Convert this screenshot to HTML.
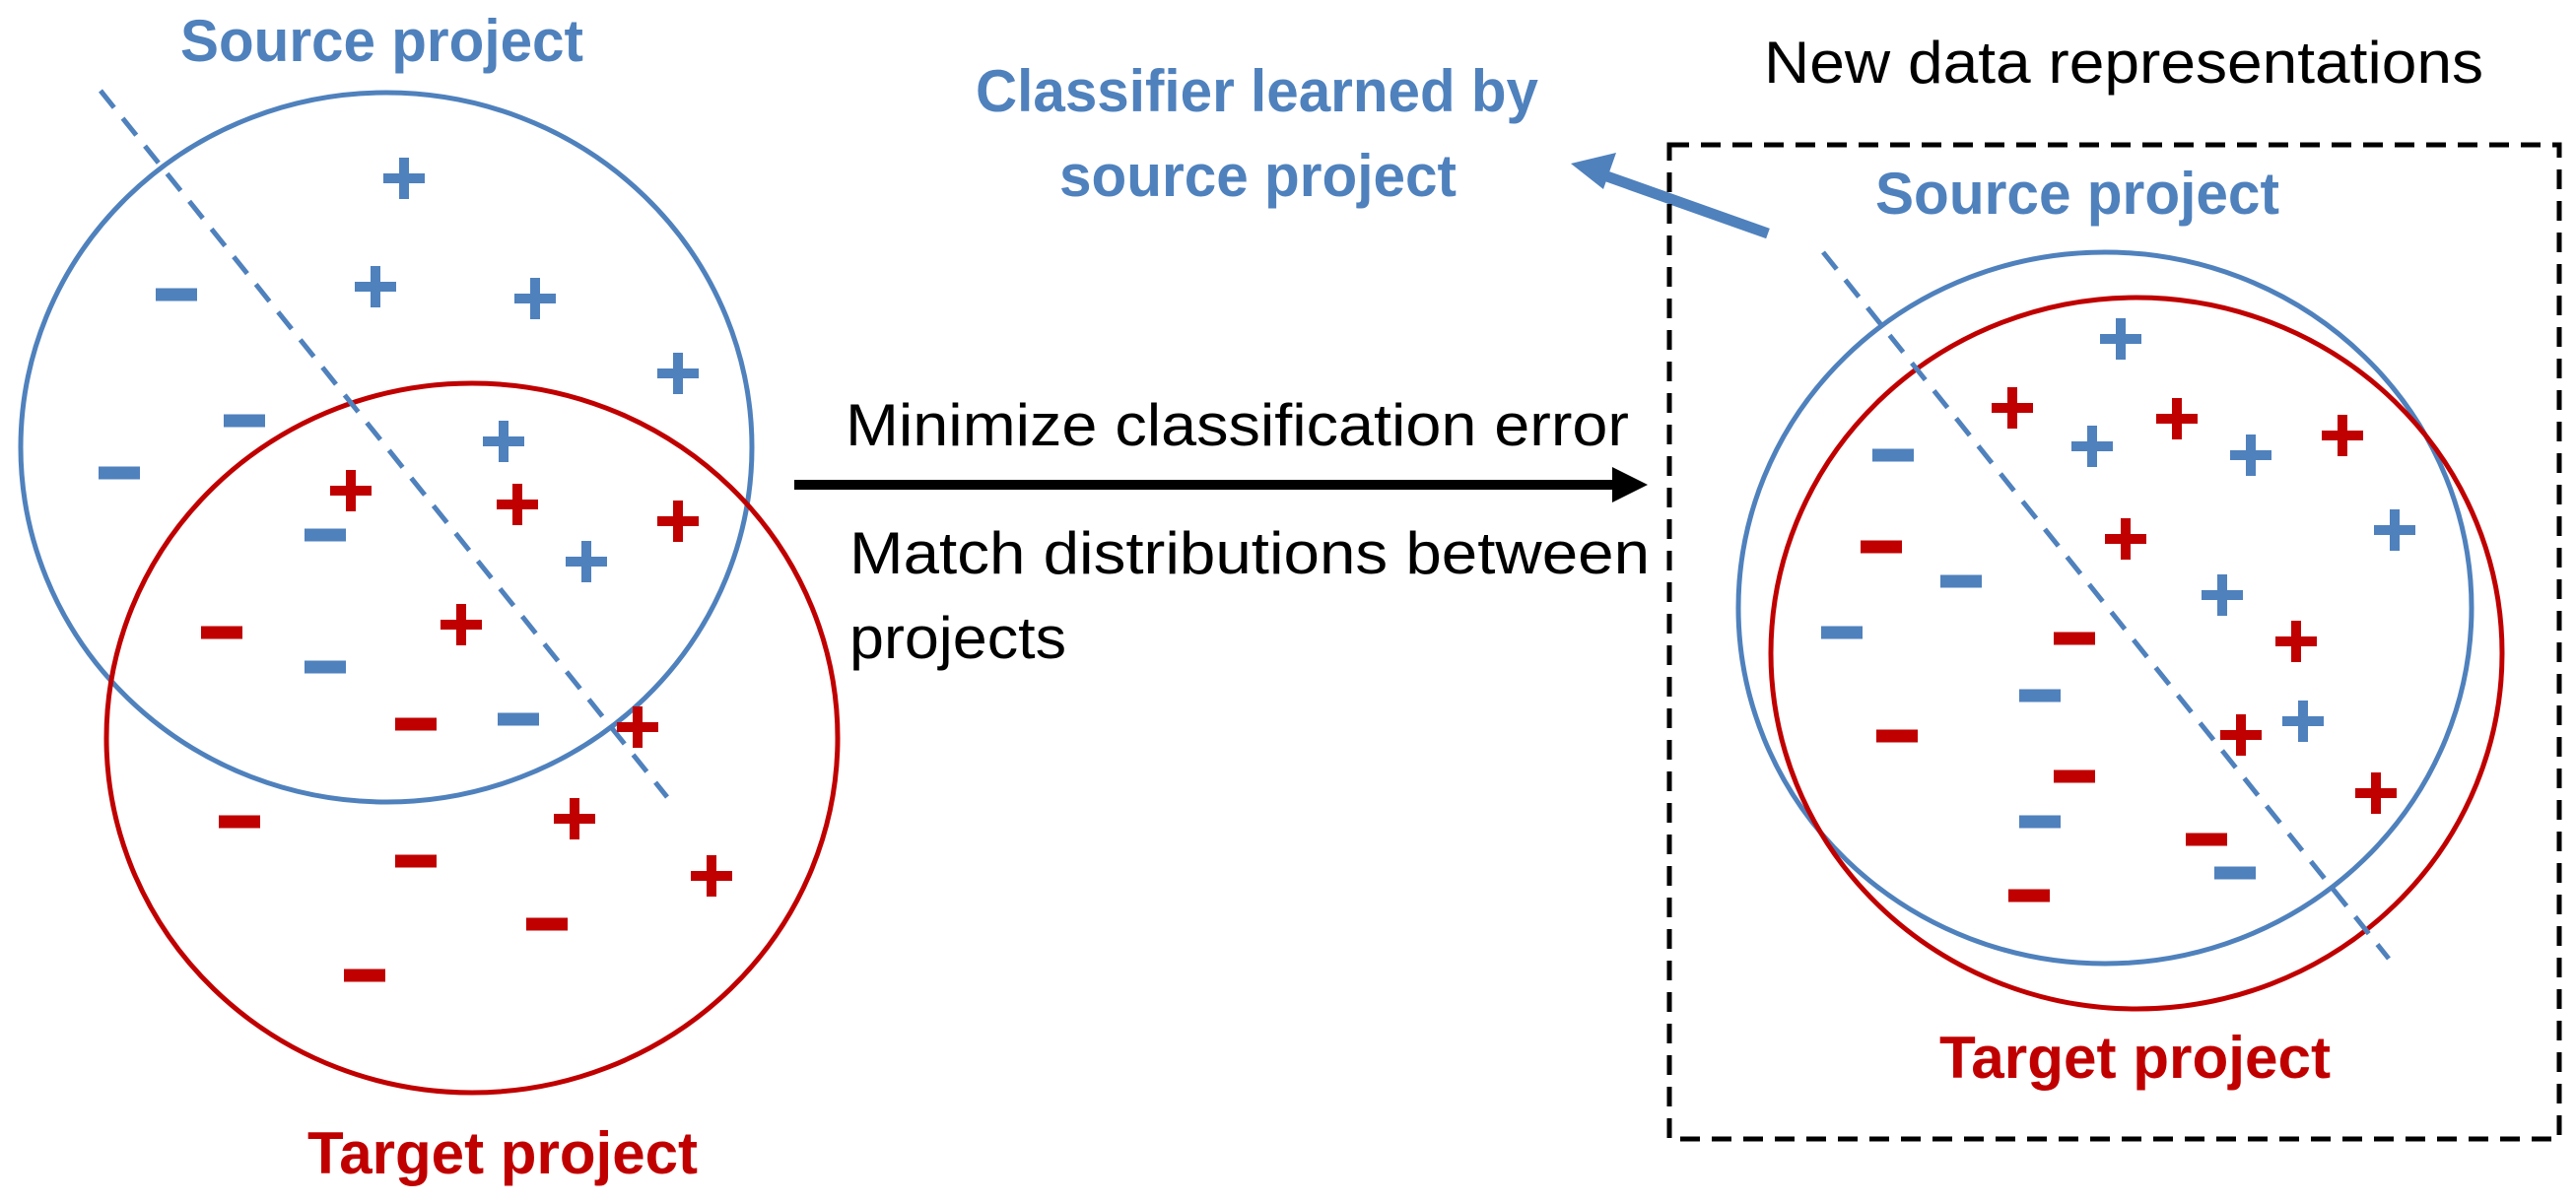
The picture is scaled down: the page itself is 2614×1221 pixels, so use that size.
<!DOCTYPE html>
<html><head><meta charset="utf-8"><style>
html,body{margin:0;padding:0;background:#fff;}
svg{display:block;}
text{font-family:"Liberation Sans",sans-serif;}
</style></head><body>
<svg width="2614" height="1221" viewBox="0 0 2614 1221" xmlns="http://www.w3.org/2000/svg">
<defs>
<g id="p"><path d="M-21 0H21M0 -21V21" stroke-width="10"/></g>
<g id="m"><path d="M-21 0H21" stroke-width="13"/></g>
</defs>
<rect width="2614" height="1221" fill="#fff"/>
<!-- left -->
<ellipse cx="392" cy="454" rx="371" ry="360" fill="none" stroke="#4F81BD" stroke-width="5"/>
<ellipse cx="479" cy="749" rx="371" ry="360" fill="none" stroke="#C00000" stroke-width="5"/>
<line x1="102" y1="92" x2="677" y2="809" stroke="#4F81BD" stroke-width="5" stroke-dasharray="22,14"/>
<text x="183" y="62" font-size="60" font-weight="bold" fill="#4F81BD" textLength="409" lengthAdjust="spacingAndGlyphs">Source project</text>
<text x="312" y="1191" font-size="60" font-weight="bold" fill="#C00000" textLength="396" lengthAdjust="spacingAndGlyphs">Target project</text>
<g stroke="#4F81BD" fill="none">
<use href="#p" x="410" y="181"/><use href="#p" x="381" y="291"/><use href="#p" x="543" y="303"/><use href="#p" x="688" y="379"/><use href="#p" x="511" y="448"/><use href="#p" x="595" y="570"/>
<use href="#m" x="179" y="299"/><use href="#m" x="248" y="427"/><use href="#m" x="121" y="480"/><use href="#m" x="330" y="543"/><use href="#m" x="330" y="677"/><use href="#m" x="526" y="730"/>
</g>
<g stroke="#C00000" fill="none">
<use href="#p" x="356" y="498"/><use href="#p" x="525" y="512"/><use href="#p" x="688" y="529"/><use href="#p" x="468" y="634"/><use href="#p" x="647" y="738"/><use href="#p" x="583" y="831"/><use href="#p" x="722" y="889"/>
<use href="#m" x="225" y="642"/><use href="#m" x="422" y="735"/><use href="#m" x="243" y="834"/><use href="#m" x="422" y="874"/><use href="#m" x="555" y="938"/><use href="#m" x="370" y="990"/>
</g>
<!-- middle -->
<text x="858" y="452" font-size="60" fill="#000" textLength="795" lengthAdjust="spacingAndGlyphs">Minimize classification error</text>
<line x1="806" y1="492" x2="1642" y2="492" stroke="#000" stroke-width="10"/>
<polygon points="1636,474 1672,492 1636,510" fill="#000"/>
<text x="862" y="582" font-size="60" fill="#000" textLength="812" lengthAdjust="spacingAndGlyphs">Match distributions between</text>
<text x="862" y="668" font-size="60" fill="#000" textLength="220" lengthAdjust="spacingAndGlyphs">projects</text>
<text x="990" y="113" font-size="60" font-weight="bold" fill="#4F81BD" textLength="571" lengthAdjust="spacingAndGlyphs">Classifier learned by</text>
<text x="1075" y="199" font-size="60" font-weight="bold" fill="#4F81BD" textLength="403" lengthAdjust="spacingAndGlyphs">source project</text>
<line x1="1794" y1="237" x2="1625" y2="177" stroke="#4F81BD" stroke-width="11"/>
<polygon points="1594,166 1640,155 1627,192" fill="#4F81BD"/>
<!-- right -->
<text x="1790" y="84" font-size="60" fill="#000" textLength="730" lengthAdjust="spacingAndGlyphs">New data representations</text>
<rect x="1694" y="147" width="903" height="1009" fill="none" stroke="#000" stroke-width="5" stroke-dasharray="20,12"/>
<text x="1903" y="217" font-size="60" font-weight="bold" fill="#4F81BD" textLength="410" lengthAdjust="spacingAndGlyphs">Source project</text>
<text x="1968" y="1094" font-size="60" font-weight="bold" fill="#C00000" textLength="397" lengthAdjust="spacingAndGlyphs">Target project</text>
<ellipse cx="2136" cy="617" rx="372" ry="361" fill="none" stroke="#4F81BD" stroke-width="5"/>
<ellipse cx="2168" cy="663" rx="371" ry="361" fill="none" stroke="#C00000" stroke-width="5"/>
<line x1="1850" y1="256" x2="2424" y2="973" stroke="#4F81BD" stroke-width="5" stroke-dasharray="22,14"/>
<g stroke="#4F81BD" fill="none">
<use href="#p" x="2152" y="344"/><use href="#p" x="2123" y="453"/><use href="#p" x="2284" y="462"/><use href="#p" x="2430" y="538"/><use href="#p" x="2255" y="604"/><use href="#p" x="2337" y="732"/>
<use href="#m" x="1921" y="462"/><use href="#m" x="1990" y="590"/><use href="#m" x="1869" y="642"/><use href="#m" x="2070" y="706"/><use href="#m" x="2070" y="834"/><use href="#m" x="2268" y="886"/>
</g>
<g stroke="#C00000" fill="none">
<use href="#p" x="2042" y="414"/><use href="#p" x="2209" y="425"/><use href="#p" x="2377" y="442"/><use href="#p" x="2157" y="547"/><use href="#p" x="2330" y="651"/><use href="#p" x="2274" y="746"/><use href="#p" x="2411" y="805"/>
<use href="#m" x="1909" y="555"/><use href="#m" x="2105" y="648"/><use href="#m" x="1925" y="747"/><use href="#m" x="2105" y="788"/><use href="#m" x="2239" y="852"/><use href="#m" x="2059" y="909"/>
</g>
</svg>
</body></html>
